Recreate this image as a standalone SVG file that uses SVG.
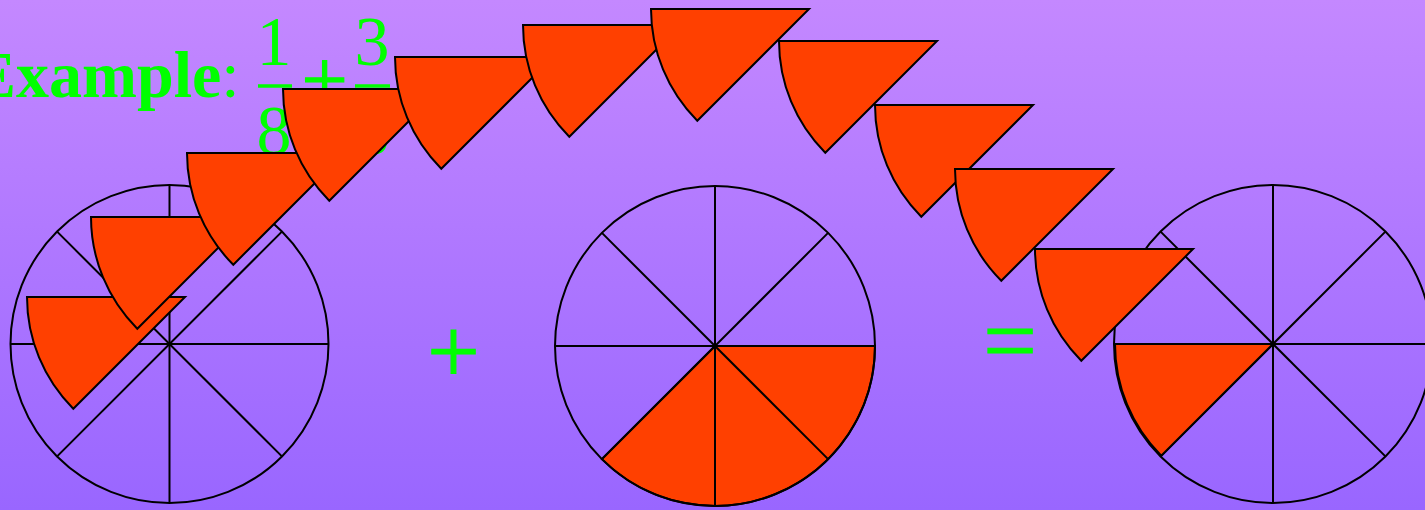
<svg xmlns="http://www.w3.org/2000/svg" xmlns:xlink="http://www.w3.org/1999/xlink" width="1425" height="510" viewBox="0 0 1425 510">
<defs>
<linearGradient id="bg" x1="0" y1="0" x2="0" y2="1">
<stop offset="0" stop-color="#C488FF"/>
<stop offset="1" stop-color="#9966FF"/>
</linearGradient>
<path id="wedge" d="M0,0 L-158,0 A158,158 0 0 0 -111.72,111.72 Z"/>
</defs>
<style>
.ln{stroke:#000;stroke-width:2;fill:none}
.wd{fill:#FF4000;stroke:#000;stroke-width:2;stroke-linejoin:miter}
.gt{fill:#00FF00;font-family:"Liberation Serif","Times New Roman",serif}
.thk{stroke:#00FF00;stroke-width:1.2}
.bar{stroke:#00FF00;stroke-width:3.3}
</style>
<rect x="0" y="0" width="1425" height="510" fill="url(#bg)"/>
<g id="title">
<text class="gt" x="-28" y="97" font-size="66" font-weight="bold">Example<tspan font-weight="normal">:</tspan></text>
<text class="gt" x="274" y="65" font-size="70" text-anchor="middle">1</text>
<line class="bar" x1="258" y1="86" x2="292" y2="86"/>
<text class="gt" x="274" y="154" font-size="70" text-anchor="middle">8</text>
<text class="gt thk" x="324.5" y="107" font-size="82" text-anchor="middle">+</text>
<text class="gt" x="372" y="65" font-size="70" text-anchor="middle">3</text>
<line class="bar" x1="355" y1="86" x2="390" y2="86"/>
<text class="gt" x="372" y="154" font-size="70" text-anchor="middle">8</text>
</g>
<g id="circle1">
<circle class="ln" cx="169.5" cy="344" r="159"/>
<line class="ln" x1="10.5" y1="344" x2="328.5" y2="344"/>
<line class="ln" x1="169.5" y1="185" x2="169.5" y2="503"/>
<line class="ln" x1="57.1" y1="231.6" x2="281.9" y2="456.4"/>
<line class="ln" x1="57.1" y1="456.4" x2="281.9" y2="231.6"/>
</g>
<g id="plus">
<text class="gt thk" x="453.5" y="383" font-size="93" text-anchor="middle">+</text>
</g>
<g id="circle2">
<path class="wd" d="M715,346 L875,346 A160,160 0 0 1 601.9,459.1 Z"/>
<circle class="ln" cx="715" cy="346" r="160"/>
<line class="ln" x1="555" y1="346" x2="875" y2="346"/>
<line class="ln" x1="715" y1="186" x2="715" y2="506"/>
<line class="ln" x1="601.9" y1="232.9" x2="828.1" y2="459.1"/>
<line class="ln" x1="601.9" y1="459.1" x2="828.1" y2="232.9"/>
</g>
<g id="equals">
<text class="gt thk" x="1010" y="373" font-size="95" text-anchor="middle">=</text>
</g>
<g id="circle3">
<circle class="ln" cx="1273" cy="344" r="159"/>
<line class="ln" x1="1114" y1="344" x2="1432" y2="344"/>
<line class="ln" x1="1273" y1="185" x2="1273" y2="503"/>
<line class="ln" x1="1160.6" y1="231.6" x2="1385.4" y2="456.4"/>
<line class="ln" x1="1160.6" y1="456.4" x2="1385.4" y2="231.6"/>
<use class="wd" href="#wedge" xlink:href="#wedge" transform="translate(1273,344)"/>
</g>
<g id="wedges">
<use class="wd" href="#wedge" xlink:href="#wedge" transform="translate(185,297)"/>
<use class="wd" href="#wedge" xlink:href="#wedge" transform="translate(249,217)"/>
<use class="wd" href="#wedge" xlink:href="#wedge" transform="translate(345,153)"/>
<use class="wd" href="#wedge" xlink:href="#wedge" transform="translate(441,89)"/>
<use class="wd" href="#wedge" xlink:href="#wedge" transform="translate(553,57)"/>
<use class="wd" href="#wedge" xlink:href="#wedge" transform="translate(681,25)"/>
<use class="wd" href="#wedge" xlink:href="#wedge" transform="translate(809,9)"/>
<use class="wd" href="#wedge" xlink:href="#wedge" transform="translate(937,41)"/>
<use class="wd" href="#wedge" xlink:href="#wedge" transform="translate(1033,105)"/>
<use class="wd" href="#wedge" xlink:href="#wedge" transform="translate(1113,169)"/>
<use class="wd" href="#wedge" xlink:href="#wedge" transform="translate(1193,249)"/>
</g>
</svg>
